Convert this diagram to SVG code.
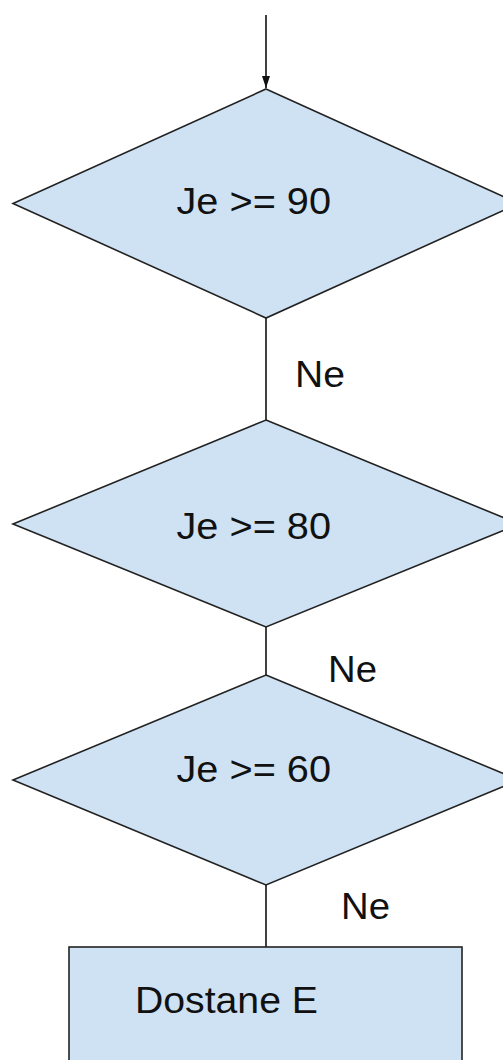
<svg xmlns="http://www.w3.org/2000/svg" width="503" height="1060" viewBox="0 0 503 1060">
<defs>
<style>
.shape{fill:#cfe2f3;stroke:#222;stroke-width:1.6;stroke-linejoin:miter}
.t{font-family:"Liberation Sans",Arial,sans-serif;font-size:36px;fill:#111}
.conn{stroke:#111;stroke-width:1.6;fill:none}
</style>
<marker id="arr" viewBox="0 0 10 10" refX="10" refY="5" markerWidth="12" markerHeight="8" markerUnits="userSpaceOnUse" orient="auto" preserveAspectRatio="none">
<path d="M0,0 L10,5 L0,10 z" fill="#111"/>
</marker>
</defs>
<rect width="503" height="1060" fill="#fff"/>
<g id="connectors">
<line class="conn" x1="266" y1="15" x2="266" y2="88" marker-end="url(#arr)"/>
<line class="conn" x1="266" y1="318" x2="266" y2="420"/>
<line class="conn" x1="266" y1="627" x2="266" y2="675"/>
<line class="conn" x1="266" y1="885" x2="266" y2="947"/>
<text class="t" x="295" y="387" textLength="50" lengthAdjust="spacingAndGlyphs">Ne</text>
<text class="t" x="328" y="682" textLength="49" lengthAdjust="spacingAndGlyphs">Ne</text>
<text class="t" x="341" y="919" textLength="49" lengthAdjust="spacingAndGlyphs">Ne</text>
</g>
<g id="node1">
<polygon class="shape" points="266,89 519,203.5 266,318 13,203.5"/>
<text class="t" x="176.5" y="213.5" textLength="154.5" lengthAdjust="spacingAndGlyphs">Je &gt;= 90</text>
</g>
<g id="node2">
<polygon class="shape" points="266,420 519,524 266,627 13,524"/>
<text class="t" x="176.5" y="538.5" textLength="154.5" lengthAdjust="spacingAndGlyphs">Je &gt;= 80</text>
</g>
<g id="node3">
<polygon class="shape" points="266,675 519,780 266,885 13,780"/>
<text class="t" x="176.5" y="781.5" textLength="154.5" lengthAdjust="spacingAndGlyphs">Je &gt;= 60</text>
</g>
<g id="node4">
<rect class="shape" x="69" y="947" width="393" height="130"/>
<text class="t" x="135" y="1013" textLength="183" lengthAdjust="spacingAndGlyphs">Dostane E</text>
</g>
</svg>
